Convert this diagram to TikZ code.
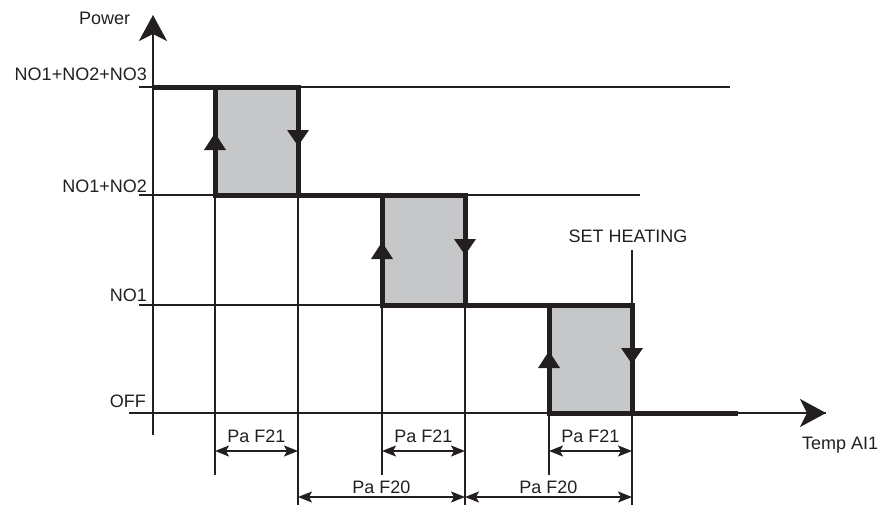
\documentclass[tikz,border=0pt]{standalone}
\usepackage{fontspec}
\setmainfont{Liberation Sans}
\usetikzlibrary{arrows.meta}
\definecolor{ink}{HTML}{231F20}
\definecolor{boxgray}{HTML}{C6C7C9}
\begin{document}
\begin{tikzpicture}[x=1pt,y=-1pt,
  guide/.style={ink,line width=1.2pt},
  heavy/.style={ink,line width=5pt},
  axis/.style={ink,line width=2.6pt},
  axisarrow/.style={axis,-{Stealth[length=26pt,width=28pt,inset=7pt]}},
  dim/.style={ink,line width=1.5pt,{Stealth[length=14pt,width=11pt,inset=3pt]}-{Stealth[length=14pt,width=11pt,inset=3pt]}},
  tri/.style={fill=ink,draw=none},
  lbl/.style={font=\fontsize{18}{20}\selectfont,text=ink,inner sep=0pt}]
\useasboundingbox (0,0) rectangle (882,507);
% guide lines
\draw[guide] (139,87) -- (730,87);
\draw[guide] (139,195) -- (640,195);
\draw[guide] (139,305) -- (549,305);
\coordinate (a1) at (215,475);
\coordinate (b1) at (298,505);
\coordinate (a2) at (382,475);
\coordinate (b2) at (465,505);
\coordinate (a3) at (549,475);
\coordinate (b3) at (632,505);
\draw[guide] (215,195) -- (a1);
\draw[guide] (298,195) -- (b1);
\draw[guide] (382,305) -- (a2);
\draw[guide] (465,305) -- (b2);
\draw[guide] (549,413) -- (a3);
\draw[guide] (632,250) -- (b3);
% hysteresis boxes
\filldraw[heavy,fill=boxgray] (215,87) rectangle (298,195);
\filldraw[heavy,fill=boxgray] (382,195) rectangle (465,305);
\filldraw[heavy,fill=boxgray] (549,305) rectangle (632,413);
\draw[heavy] (153,87) -- (215,87);
\draw[heavy] (298,195) -- (382,195);
\draw[heavy] (465,305) -- (549,305);
% axes
\draw[axis] (129,413) -- (826,413);
\draw[heavy] (632,413) -- (738,413);
\draw[axisarrow] (738,413) -- (826,413);
\draw[axisarrow] (153,435) -- (153,15);
% direction triangles
\fill[tri] (215,133) -- (226,150) -- (204,150) -- cycle;
\fill[tri] (298,146) -- (309,130) -- (287,130) -- cycle;
\fill[tri] (382,242) -- (393,259) -- (371,259) -- cycle;
\fill[tri] (465,255) -- (476,239) -- (454,239) -- cycle;
\fill[tri] (549,351) -- (560,368) -- (538,368) -- cycle;
\fill[tri] (632,364) -- (643,348) -- (621,348) -- cycle;
% dimension arrows
\draw[dim] (215,451) -- (298,451);
\draw[dim] (382,451) -- (465,451);
\draw[dim] (549,451) -- (632,451);
\draw[dim] (298,497) -- (465,497);
\draw[dim] (465,497) -- (632,497);
% labels
\node[lbl,anchor=base west] (pw) at (79,24) {Power};
\node[lbl,anchor=base east] (l3) at (147,80) {NO1+NO2+NO3};
\node[lbl,anchor=base east] (l2) at (147,192) {NO1+NO2};
\node[lbl,anchor=base east] (l1) at (147,301) {NO1};
\node[lbl,anchor=base east] (l0) at (146,407) {OFF};
\node[lbl,anchor=base] (sh) at (628,242) {SET HEATING};
\node[lbl,anchor=base west] (tx) at (802,449) {Temp AI1};
\node[lbl,anchor=base] (d1) at (256.5,442) {Pa F21};
\node[lbl,anchor=base] (d2) at (423.5,442) {Pa F21};
\node[lbl,anchor=base] (d3) at (590.5,442) {Pa F21};
\node[lbl,anchor=base] (d4) at (381.5,493) {Pa F20};
\node[lbl,anchor=base] (d5) at (548.5,493) {Pa F20};
\end{tikzpicture}
\end{document}
